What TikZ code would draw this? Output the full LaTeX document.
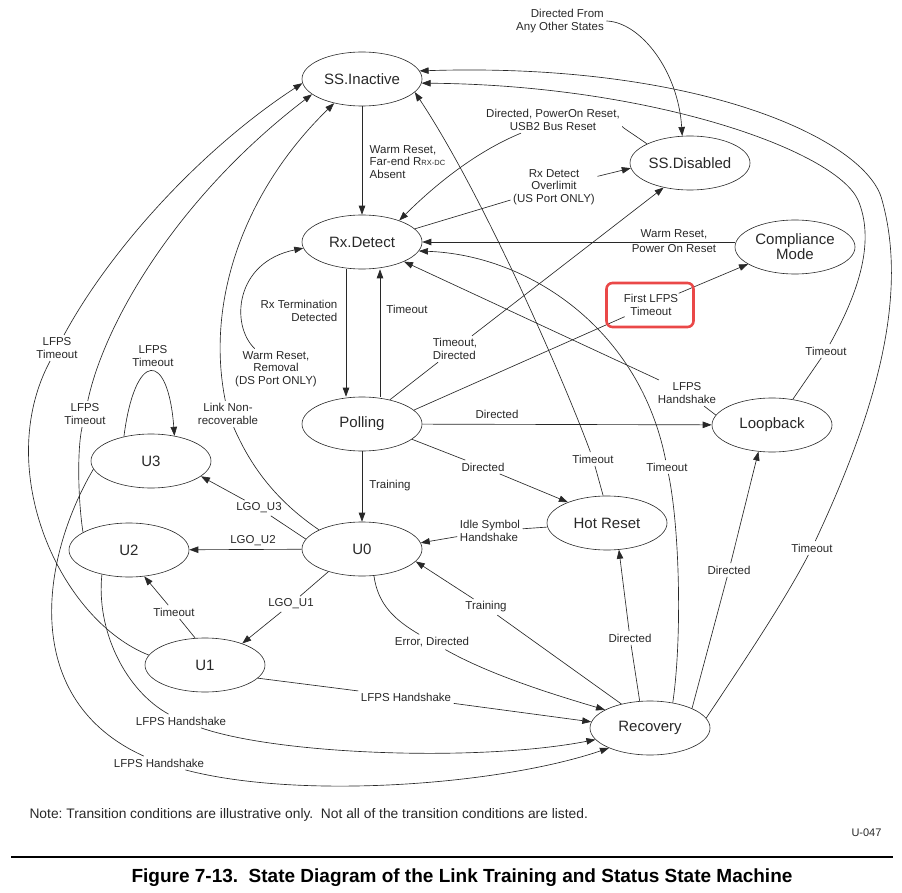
\documentclass[tikz,border=0pt]{standalone}
\usepackage{fontspec}
\setmainfont{Liberation Sans}
\usetikzlibrary{arrows.meta,shapes.geometric}
\definecolor{ink}{RGB}{40,40,40}
\definecolor{hilite}{RGB}{234,72,72}
\frenchspacing

\begin{document}
\begin{tikzpicture}[x=1pt,y=-1pt,
    state/.style={ellipse, draw=ink, line width=0.6pt, minimum width=120pt,
      minimum height=54pt, inner sep=0pt, align=center, text=ink,
      font=\fontsize{15}{15}\selectfont},
    lbl/.style={font=\fontsize{11.5}{12.5}\selectfont, align=center,
      inner sep=2.5pt, text=ink},
    ln/.style={draw=ink, line width=0.65pt},
    tr/.style={ln, -{Triangle[length=9pt,width=6.5pt]}}]
    \useasboundingbox (0,0) rectangle (902,893);

    % stavy
    \node[state] (ssi) at (362,79) {SS.Inactive};
    \node[state] (ssd) at (690,163) {SS.Disabled};
    \node[state] (rxd) at (362,242) {Rx.Detect};
    \node[state] (cmp) at (795,247) {Compliance\\Mode};
    \node[state] (pol) at (362,424) {Polling};
    \node[state] (lpb) at (772,425) {Loopback};
    \node[state] (u3) at (151,461) {U3};
    \node[state] (u2) at (129,550) {U2};
    \node[state] (u0) at (362,549) {U0};
    \node[state] (hr) at (607,523) {Hot Reset};
    \node[state] (u1) at (205,665) {U1};
    \node[state] (rec) at (650,728) {Recovery};

    % popisky prechodu
    \node[lbl, align=right] (lany) at (560,21) {Directed From\\Any Other States};
    \node[lbl, anchor=west, align=left] (lwfa) at (367,162)
      {Warm Reset,\\Far-end R{\fontsize{7.5}{8}\selectfont RX-DC}\\Absent};
    \node[lbl] (ldpr) at (553,120) {Directed, PowerOn Reset,\\USB2 Bus Reset};
    \node[lbl] (lrxo) at (554,187) {Rx Detect\\Overlimit\\(US Port ONLY)};
    \node[lbl] (lwpo) at (674,241) {Warm Reset,\\[3pt]Power On Reset};
    \node[lbl, inner sep=1pt] (lflt) at (651,305) {First LFPS\\Timeout};
    \node[lbl, anchor=east, align=right] (lrtd) at (340,311) {Rx Termination\\Detected};
    \node[lbl] (ltop) at (407,309) {Timeout};
    \node[lbl] (lwrr) at (276,369) {Warm Reset,\\Removal\\(DS Port ONLY)};
    \node[lbl, align=left] (ltd) at (455,349) {Timeout,\\Directed};
    \node[lbl] (ldlp) at (497,414) {Directed};
    \node[lbl] (llhs) at (687,393) {LFPS\\Handshake};
    \node[lbl] (ltlb) at (826,351) {Timeout};
    \node[lbl] (ldhr) at (483,467) {Directed};
    \node[lbl] (ltrn) at (390,486) {Training};
    \node[lbl] (lthr) at (593,459) {Timeout};
    \node[lbl] (ltrx) at (667,467) {Timeout};
    \node[lbl] (ltrc) at (812,548) {Timeout};
    \node[lbl, align=left] (lish) at (490,531) {Idle Symbol\\Handshake};
    \node[lbl] (ltr) at (486,607) {Training};
    \node[lbl] (ldrh) at (630,638) {Directed};
    \node[lbl] (ldrl) at (729,570) {Directed};
    \node[lbl] (led) at (432,642) {Error, Directed};
    \node[lbl] (lhs1) at (406,697) {LFPS Handshake};
    \node[lbl] (lhs2) at (181,721) {LFPS Handshake};
    \node[lbl] (lhs3) at (159,763) {LFPS Handshake};
    \node[lbl] (lg3) at (259,508) {LGO\_U3};
    \node[lbl] (lg2) at (253,541) {LGO\_U2};
    \node[lbl] (lg1) at (291,604) {LGO\_U1};
    \node[lbl] (lt21) at (174,612) {Timeout};
    \node[lbl] (lt33) at (153,356) {LFPS\\Timeout};
    \node[lbl] (lt2) at (85,414) {LFPS\\Timeout};
    \node[lbl] (lt1) at (57,348) {LFPS\\Timeout};
    \node[lbl] (lnr) at (228,414) {Link Non-\\recoverable};

    % SS.Inactive, SS.Disabled
    \draw[tr] (lany.east) .. controls (640,22) and (678,70) .. (ssd.106);
    \draw[tr] (ssi) -- (rxd);
    \draw[ln] (ssd.156) .. controls (630,132) and (620,126) .. (ldpr);
    \draw[tr] (ldpr) .. controls (480,150) and (440,180) .. (rxd.30);
    \draw[ln] (rxd.14) -- (lrxo);
    \draw[tr] (lrxo) -- (ssd.185);

    % Compliance Mode
    \draw[tr] (cmp.west |- rxd.east) -- (rxd.east);
    \draw[ln] (pol.15) -- (lflt);
    \draw[tr] (lflt) -- (cmp.200);

    % Rx.Detect, Polling
    \draw[tr] ([xshift=-16pt]rxd.south) -- ([xshift=-16pt]pol.north);
    \draw[tr] ([xshift=18pt]pol.north) -- ([xshift=18pt]rxd.south);
    \draw[tr] (lwrr) .. controls (230,325) and (235,262) .. (rxd.186);
    \draw[tr] (pol) -- (lpb);
    \draw[ln] (pol.-17) -- (ldhr);
    \draw[tr] (ldhr) -- (hr.152);
    \draw[tr] (pol) -- (u0);
    \draw[ln] (pol.41) -- (ltd);
    \draw[tr] (ltd) -- (ssd.223);

    % Loopback
    \draw[ln] (lpb.170) -- (llhs);
    \draw[tr] (llhs) -- (rxd.-25);
    \draw[ln] (lpb.51) -- (ltlb);
    \draw[tr] (ltlb) .. controls (860,290) and (875,240) .. (858,200)
      .. controls (835,150) and (650,85) .. (ssi.-4);

    % Hot Reset
    \draw[ln] (hr.98) -- (lthr);
    \draw[tr] (lthr) .. controls (560,370) and (480,190) .. (ssi.-14);
    \draw[ln] (hr) -- (lish);
    \draw[tr] (lish) -- (u0.6);

    % Recovery
    \draw[ln] (rec.111) -- (ldrh);
    \draw[tr] (ldrh) -- (hr.-66);
    \draw[ln] (rec.25) -- (ldrl);
    \draw[tr] (ldrl) -- (lpb.243);
    \draw[ln] (rec.140) -- (ltr);
    \draw[tr] (ltr) -- (u0.-13);
    \draw[ln] (rec.48) .. controls (682,640) and (680,530) .. (ltrx);
    \draw[tr] (ltrx) .. controls (640,330) and (530,255) .. (rxd.-9);
    \draw[ln] (rec.10) .. controls (745,660) and (785,600) .. (ltrc);
    \draw[tr] (ltrc) .. controls (872,420) and (910,300) .. (882,200)
      .. controls (867,140) and (700,62) .. (ssi.8);

    % U0
    \draw[ln] (u0.-66) .. controls (378,605) and (395,620) .. (led);
    \draw[tr] (led) .. controls (490,675) and (555,695) .. (rec.158);
    \draw[ln] (u0.170) -- (lg3);
    \draw[tr] (lg3) -- (u3.-17);
    \draw[tr] (u0) -- (u2);
    \draw[ln] (u0.214) -- (lg1);
    \draw[tr] (lg1) -- (u1.30);
    \draw[ln] (u0.156) .. controls (275,500) and (250,465) .. (lnr);
    \draw[tr] (lnr) .. controls (205,300) and (245,190) .. (ssi.221);

    % U1
    \draw[ln] (u1.-14) -- (lhs1);
    \draw[tr] (lhs1) -- (rec.174);
    \draw[ln] (u1.110) -- (lt21);
    \draw[tr] (lt21) -- (u2.-60);
    \draw[ln] (u1.170) .. controls (60,620) and (-8,470) .. (lt1);
    \draw[tr] (lt1) .. controls (110,250) and (200,150) .. (ssi.184);

    % U2
    \draw[ln] (u2.222) .. controls (96,630) and (125,690) .. (lhs2);
    \draw[tr] (lhs2) .. controls (280,755) and (480,762) .. (rec.192);
    \draw[ln] (u2.159) .. controls (78,500) and (77,450) .. (lt2);
    \draw[tr] (lt2) .. controls (105,320) and (180,195) .. (ssi.197);

    % U3
    \draw[tr] (u3.138) .. controls (135,350) and (168,350) .. (u3.47);
    \draw[ln] (u3.188) .. controls (40,560) and (20,700) .. (lhs3);
    \draw[tr] (lhs3) .. controls (300,800) and (500,785) .. (rec.206);

    % zvyrazneni
    \node[draw=hilite, line width=2.6pt, rounded corners=6pt,
      minimum width=87pt, minimum height=44pt] (hl) at (650,305) {};

    % poznamka a titulek
    \node[anchor=west, text=ink, font=\fontsize{13.8}{15}\selectfont] (note) at (26,815)
      {Note: Transition conditions are illustrative only.\ \ Not all of the transition conditions are listed.};
    \node[anchor=east, text=ink, font=\fontsize{11}{12}\selectfont] (fid) at (885,833) {U-047};
    \draw[line width=2.5pt] (11,857) -- (893,857);
    \node[font=\bfseries\fontsize{19}{21}\selectfont] (cap) at (462,878)
      {Figure 7-13.\ \ State Diagram of the Link Training and Status State Machine};
\end{tikzpicture}
\end{document}
